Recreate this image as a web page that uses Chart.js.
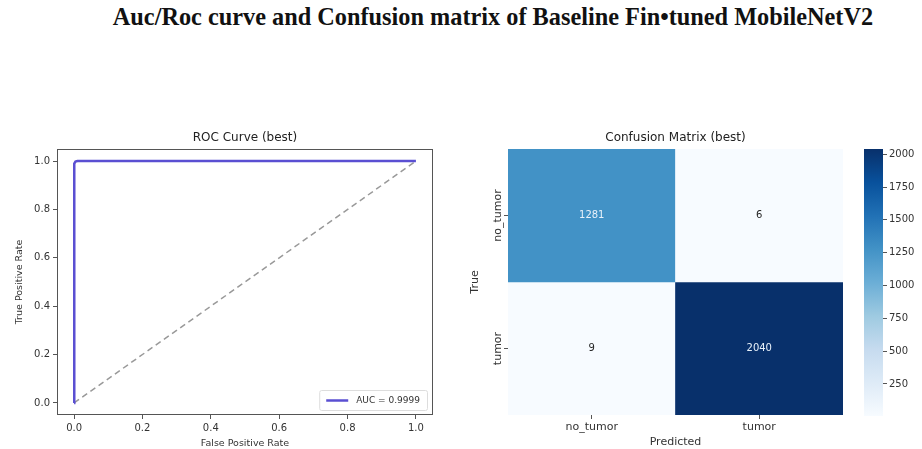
<!DOCTYPE html>
<html>
<head>
<meta charset="utf-8">
<script src="https://cdn.jsdelivr.net/npm/chart.js@4.4.1/dist/chart.umd.min.js"></script>
<style>
  body { margin: 0; background: #fff; width: 922px; height: 449px; overflow: hidden; position: relative; }
  #titre { position: absolute; left: 64px; top: 3px; width: 858px; text-align: center; white-space: nowrap;
           font-family: "Liberation Serif", serif; font-weight: bold; font-size: 24.3px; color: #111; }
  canvas { position: absolute; }
</style>
</head>
<body>
<div id="titre">Auc/Roc curve and Confusion matrix of Baseline Fin•tuned MobileNetV2</div>
<canvas id="roc" width="440" height="329" style="left:0px;top:120px"></canvas>
<canvas id="cm" width="420" height="329" style="left:440px;top:120px"></canvas>
<canvas id="cbar" width="67" height="329" style="left:855px;top:120px"></canvas>
<script>
// ROC curve
const fpr = [0, 0, 0.001, 0.004, 0.01, 1];
const tpr = [0, 0.97, 0.99, 0.998, 1, 1];
const chanceX = [0, 1];
const chanceY = [0, 1];
const aucLabel = "AUC = 0.9999";
const rocTicks = [0, 0.2, 0.4, 0.6, 0.8, 1.0];

// Confusion matrix
const classes = ["no_tumor", "tumor"];
const matrix = [
    [1281, 6],
    [9, 2040],
];
const cbTicks = [250, 500, 750, 1000, 1250, 1500, 1750, 2000];

const vmin = Math.min(...matrix.flat());
const vmax = Math.max(...matrix.flat());

// palette Blues (matplotlib)
const blues = ["#f7fbff", "#deebf7", "#c6dbef", "#9ecae1", "#6baed6", "#4292c6", "#2171b5", "#08519c", "#08306b"];

function hexRgb(h) {
    return [parseInt(h.slice(1, 3), 16), parseInt(h.slice(3, 5), 16), parseInt(h.slice(5, 7), 16)];
}

function bluesColor(v) {
    let t = (v - vmin) / (vmax - vmin);
    t = Math.max(0, Math.min(1, t));
    const pos = t * (blues.length - 1);
    const i = Math.min(Math.floor(pos), blues.length - 2);
    const f = pos - i;
    const a = hexRgb(blues[i]);
    const b = hexRgb(blues[i + 1]);
    const c = a.map((x, k) => Math.round(x + (b[k] - x) * f));
    return `rgb(${c[0]},${c[1]},${c[2]})`;
}

const police = "DejaVu Sans";
const gris = "#333";

// titre de chaque sous-graphe, centré sur la zone du graphe
const titreSousGraphe = {
    id: "titreSousGraphe",
    afterDraw(chart, args, opts) {
        const { ctx, chartArea } = chart;
        ctx.save();
        ctx.font = `12px "${police}"`;
        ctx.fillStyle = "#222";
        ctx.textAlign = "center";
        ctx.textBaseline = "middle";
        ctx.fillText(opts.text, (chartArea.left + chartArea.right) / 2, chartArea.top - 11);
        ctx.restore();
    },
};

// cadre complet autour du graphe ROC
const cadre = {
    id: "cadre",
    afterDraw(chart) {
        const { ctx, chartArea } = chart;
        ctx.save();
        ctx.strokeStyle = "#555";
        ctx.lineWidth = 1;
        ctx.strokeRect(chartArea.left + 0.5, chartArea.top + 0.5, chartArea.width - 1, chartArea.height - 1);
        ctx.restore();
    },
};

// légende en bas à droite, dans la zone du graphe
const legendeAuc = {
    id: "legendeAuc",
    afterDraw(chart) {
        const { ctx, chartArea } = chart;
        const ds = chart.data.datasets[0];
        ctx.save();
        ctx.font = `9px "${police}"`;
        const w = 36 + ctx.measureText(ds.label).width + 8;
        const h = 20;
        const x = chartArea.right - 6 - w;
        const y = chartArea.bottom - 5 - h;
        ctx.fillStyle = "rgba(255,255,255,0.85)";
        ctx.strokeStyle = "#ddd";
        ctx.lineWidth = 1;
        ctx.beginPath();
        ctx.roundRect(x + 0.5, y + 0.5, w, h, 2);
        ctx.fill();
        ctx.stroke();
        ctx.strokeStyle = ds.borderColor;
        ctx.lineWidth = 2.5;
        ctx.beginPath();
        ctx.moveTo(x + 7, y + h / 2 + 0.5);
        ctx.lineTo(x + 29, y + h / 2 + 0.5);
        ctx.stroke();
        ctx.fillStyle = gris;
        ctx.textBaseline = "middle";
        ctx.fillText(ds.label, x + 37, y + h / 2 + 1);
        ctx.restore();
    },
};

new Chart(document.getElementById("roc"), {
    type: "line",
    data: {
        datasets: [
            {
                label: aucLabel,
                data: fpr.map((x, i) => ({ x: x, y: tpr[i] })),
                borderColor: "#5a4fd2",
                borderWidth: 2.5,
                pointRadius: 0,
                tension: 0,
            },
            {
                label: "chance",
                data: chanceX.map((x, i) => ({ x: x, y: chanceY[i] })),
                borderColor: "#999",
                borderWidth: 1.5,
                borderDash: [6, 4],
                pointRadius: 0,
            },
        ],
    },
    options: {
        responsive: false,
        animation: false,
        layout: { padding: { top: 29, right: 7, left: 0, bottom: 0 } },
        scales: {
            x: {
                type: "linear",
                min: -0.05,
                max: 1.05,
                afterBuildTicks: (axis) => { axis.ticks = rocTicks.map((v) => ({ value: v })); },
                afterFit: (axis) => { axis.height = 34; },
                ticks: { callback: (v) => v.toFixed(1), font: { family: police, size: 10 }, color: gris, padding: 3 },
                grid: { drawOnChartArea: false, tickLength: 4, color: "#555" },
                border: { display: false },
                title: { display: true, text: "False Positive Rate", font: { family: police, size: 9.5 }, color: gris, padding: { top: 4, bottom: 0 } },
            },
            y: {
                type: "linear",
                min: -0.05,
                max: 1.05,
                afterBuildTicks: (axis) => { axis.ticks = rocTicks.map((v) => ({ value: v })); },
                afterFit: (axis) => { axis.width = 57; },
                ticks: { callback: (v) => v.toFixed(1), font: { family: police, size: 10 }, color: gris, padding: 3 },
                grid: { drawOnChartArea: false, tickLength: 4, color: "#555" },
                border: { display: false },
                title: { display: true, text: "True Positive Rate", font: { family: police, size: 9.5 }, color: gris, padding: { top: 14, bottom: 0 } },
            },
        },
        plugins: {
            legend: { display: false },
            tooltip: { enabled: false },
            titreSousGraphe: { text: "ROC Curve (best)" },
        },
    },
    plugins: [titreSousGraphe, cadre, legendeAuc],
});

// valeurs écrites dans les cases
const valeursCases = {
    id: "valeursCases",
    afterDatasetsDraw(chart) {
        const { ctx } = chart;
        ctx.save();
        ctx.font = `10px "${police}"`;
        ctx.textAlign = "center";
        ctx.textBaseline = "middle";
        chart.data.datasets.forEach((ds, r) => {
            chart.getDatasetMeta(r).data.forEach((el, c) => {
                const v = matrix[r][c];
                const t = (v - vmin) / (vmax - vmin);
                ctx.fillStyle = t > 0.5 ? "#e8f1fa" : "#262626";
                ctx.fillText(String(v), el.x, (el.y + el.base) / 2);
            });
        });
        ctx.restore();
    },
};

// étiquettes verticales de l'axe y
const etiquettesY = {
    id: "etiquettesY",
    afterDraw(chart) {
        const { ctx, chartArea, scales } = chart;
        ctx.save();
        ctx.font = `11px "${police}"`;
        ctx.fillStyle = gris;
        ctx.textAlign = "center";
        ctx.textBaseline = "middle";
        classes.forEach((c, i) => {
            const y = scales.y.getPixelForValue(i + 0.5);
            ctx.save();
            ctx.translate(chartArea.left - 10, y);
            ctx.rotate(-Math.PI / 2);
            ctx.fillText(c, 0, 0);
            ctx.restore();
        });
        ctx.restore();
    },
};

new Chart(document.getElementById("cm"), {
    type: "bar",
    data: {
        labels: classes,
        datasets: matrix.map((row, r) => ({
            label: classes[r],
            data: row.map(() => [r, r + 1]),
            backgroundColor: row.map((v) => bluesColor(v)),
            borderWidth: 0,
            grouped: false,
            barPercentage: 1,
            categoryPercentage: 1,
        })),
    },
    options: {
        responsive: false,
        animation: false,
        layout: { padding: { top: 29, right: 17, left: 0, bottom: 0 } },
        scales: {
            x: {
                afterFit: (axis) => { axis.height = 34; },
                ticks: { font: { family: police, size: 11 }, color: gris, padding: 2 },
                grid: { drawOnChartArea: false, offset: false, tickLength: 4, color: "#555" },
                border: { display: false },
                title: { display: true, text: "Predicted", font: { family: police, size: 11 }, color: gris, padding: { top: 4, bottom: 0 } },
            },
            y: {
                type: "linear",
                min: 0,
                max: 2,
                reverse: true,
                afterBuildTicks: (axis) => { axis.ticks = classes.map((c, i) => ({ value: i + 0.5 })); },
                afterFit: (axis) => { axis.width = 68; },
                ticks: { display: false },
                grid: { drawOnChartArea: false, tickLength: 4, color: "#555" },
                border: { display: false },
                title: { display: true, text: "True", font: { family: police, size: 11 }, color: gris, padding: { top: 29, bottom: 0 } },
            },
        },
        plugins: {
            legend: { display: false },
            tooltip: { enabled: false },
            titreSousGraphe: { text: "Confusion Matrix (best)" },
        },
    },
    plugins: [titreSousGraphe, valeursCases, etiquettesY],
});

// barre de couleurs
new Chart(document.getElementById("cbar"), {
    type: "bar",
    data: {
        labels: [""],
        datasets: [
            {
                data: [[vmin, vmax]],
                backgroundColor: (ctx) => {
                    const area = ctx.chart.chartArea;
                    if (!area) return blues[4];
                    const g = ctx.chart.ctx.createLinearGradient(0, area.bottom, 0, area.top);
                    blues.forEach((c, i) => g.addColorStop(i / (blues.length - 1), c));
                    return g;
                },
                borderWidth: 0,
                barPercentage: 1,
                categoryPercentage: 1,
            },
        ],
    },
    options: {
        responsive: false,
        animation: false,
        layout: { padding: { top: 29, right: 0, left: 9, bottom: 33 } },
        scales: {
            x: { display: false },
            y: {
                position: "right",
                min: vmin,
                max: vmax,
                afterBuildTicks: (axis) => { axis.ticks = cbTicks.map((v) => ({ value: v })); },
                afterFit: (axis) => { axis.width = 39; },
                ticks: { callback: (v) => String(v), font: { family: police, size: 10 }, color: gris, padding: 2 },
                grid: { drawOnChartArea: false, tickLength: 4, color: "#555" },
                border: { display: false },
            },
        },
        plugins: { legend: { display: false }, tooltip: { enabled: false } },
    },
});
</script>
</body>
</html>
